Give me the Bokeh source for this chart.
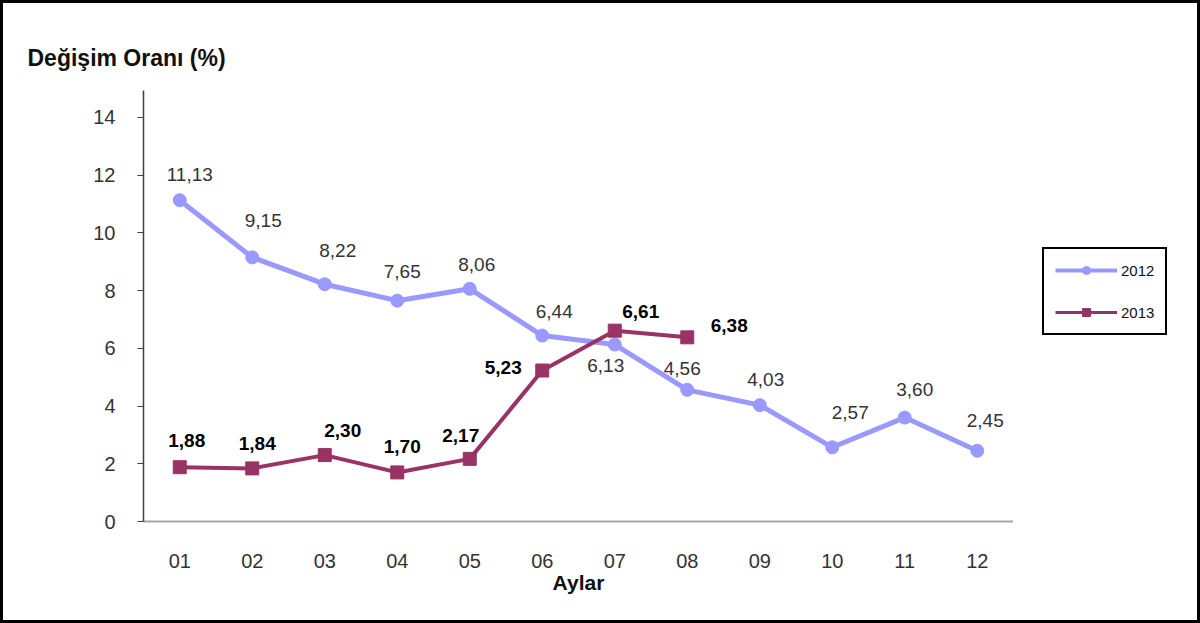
from bokeh.plotting import figure
from bokeh.models import (ColumnDataSource, FactorRange, Range1d, FixedTicker,
                          Legend, LegendItem)
from bokeh.layouts import column, row
from bokeh.embed import file_html
from bokeh.resources import INLINE

# ---- data ----
months = ["01", "02", "03", "04", "05", "06", "07", "08", "09", "10", "11", "12"]
values_2012 = [11.13, 9.15, 8.22, 7.65, 8.06, 6.44, 6.13, 4.56, 4.03, 2.57, 3.60, 2.45]
values_2013 = [1.88, 1.84, 2.30, 1.70, 2.17, 5.23, 6.61, 6.38]
y_ticks = [0, 2, 4, 6, 8, 10, 12, 14]
series_names = ["2012", "2013"]

# ---- label placement (styles, screen px) ----
dx_2012 = [10, 11, 13, 5, 7, 12, -9, -5, 6, 18, 10, 8]
dy_2012 = [-26, -37, -34, -29, -24, -24, 21, -21, -26, -35, -28, -30]
dx_2013 = [7, 5, 18, 5, -9, -39, 26, 42]
dy_2013 = [-27, -25, -25, -26, -23, -3, -19, -12]

def fmt(v):
    return f"{v:.2f}".replace(".", ",")

months_2013 = months[:len(values_2013)]
src12 = ColumnDataSource(dict(x=months, y=values_2012, t=[fmt(v) for v in values_2012],
                              dx=dx_2012, dy=dy_2012))
src13 = ColumnDataSource(dict(x=months_2013, y=values_2013, t=[fmt(v) for v in values_2013],
                              dx=dx_2013, dy=dy_2013))

FONT = "Liberation Sans"
C12 = "#9999ff"
C13 = "#993366"

p = figure(width=1010, height=617, output_backend="svg", toolbar_location=None,
           x_range=FactorRange(*months, range_padding=0),
           y_range=Range1d(0, 14.93),
           min_border_left=140, min_border_right=0,
           min_border_top=87, min_border_bottom=99)
p.background_fill_color = "white"
p.border_fill_color = "white"
p.outline_line_color = None
p.grid.visible = False

# title (y-axis caption at top-left)
p.title.text = "Değişim Oranı (%)"
p.title.align = "left"
p.title.offset = -116
p.title.text_font = FONT
p.title.text_font_size = "23px"
p.title.text_font_style = "bold"
p.title.text_color = "#111111"
p.title.standoff = 40

# y axis
ya = p.yaxis[0]
ya.ticker = FixedTicker(ticks=y_ticks)
ya.minor_tick_line_color = None
ya.major_tick_in = 0
ya.major_tick_out = 6
ya.major_tick_line_color = "#404040"
ya.axis_line_color = "#404040"
ya.axis_line_width = 1.5
ya.major_label_standoff = 22
ya.major_label_text_font = FONT
ya.major_label_text_font_size = "20px"
ya.major_label_text_color = "#333333"

# x axis
xa = p.xaxis[0]
xa.axis_line_color = "#a6a6a6"
xa.axis_line_width = 2
xa.major_tick_line_color = None
xa.minor_tick_line_color = None
xa.major_label_standoff = 26
xa.major_label_text_font = FONT
xa.major_label_text_font_size = "20px"
xa.major_label_text_color = "#333333"
xa.axis_label = "Aylar"
xa.axis_label_text_font = FONT
xa.axis_label_text_font_size = "21px"
xa.axis_label_text_font_style = "bold"
xa.axis_label_text_color = "#111111"
xa.axis_label_standoff = 0

# series
p.line("x", "y", source=src12, line_color=C12, line_width=5)
p.scatter("x", "y", source=src12, marker="circle", size=13,
          fill_color=C12, line_color=C12)
p.line("x", "y", source=src13, line_color=C13, line_width=4)
p.scatter("x", "y", source=src13, marker="square", size=13,
          fill_color=C13, line_color=C13)

p.text("x", "y", text="t", source=src12, x_offset="dx", y_offset="dy",
       text_align="center", text_baseline="middle", text_font={"value": FONT},
       text_font_size="19px", text_color="#333333")
p.text("x", "y", text="t", source=src13, x_offset="dx", y_offset="dy",
       text_align="center", text_baseline="middle", text_font={"value": FONT},
       text_font_size="19px", text_font_style="bold", text_color="#000000")

# ---- legend panel on the right (proxy glyphs kept outside the visible range) ----
pl = figure(width=184, height=617, output_backend="svg", toolbar_location=None,
            x_range=Range1d(0, 1), y_range=Range1d(0, 1),
            x_axis_type=None, y_axis_type=None,
            min_border_left=0, min_border_right=0, min_border_top=0, min_border_bottom=0)
pl.background_fill_color = "white"
pl.border_fill_color = "white"
pl.outline_line_color = None
pl.grid.visible = False
proxy = ColumnDataSource(dict(x=[-5, -6], y=[-5, -6]))
gl12 = pl.line("x", "y", source=proxy, line_color=C12, line_width=4)
gm12 = pl.scatter("x", "y", source=proxy, marker="circle", fill_color=C12, line_color=C12)
gl13 = pl.line("x", "y", source=proxy, line_color=C13, line_width=3)
gm13 = pl.scatter("x", "y", source=proxy, marker="square", fill_color=C13, line_color=C13)

legend = Legend(items=[LegendItem(label=series_names[0], renderers=[gl12, gm12]),
                       LegendItem(label=series_names[1], renderers=[gl13, gm13])],
                location=(29, 186), orientation="vertical",
                glyph_width=62, glyph_height=20, label_height=20,
                label_standoff=4, spacing=22, padding=11, margin=0,
                border_line_color="#000000", border_line_width=2,
                border_line_alpha=1.0,
                background_fill_color="white",
                label_text_font=FONT, label_text_font_size="15px",
                label_text_color="#111111")
pl.add_layout(legend, "center")

page = column(row(p, pl), styles={"border": "3px solid black"})

open("out.html", "w").write(file_html(page, INLINE))
